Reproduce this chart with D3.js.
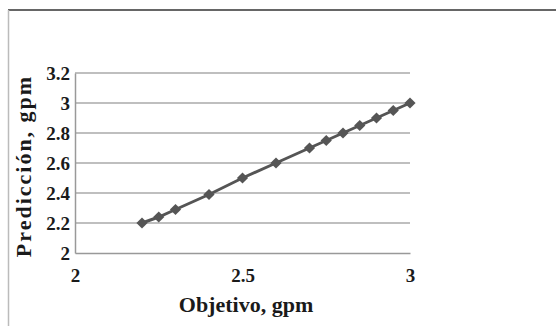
<!DOCTYPE html>
<html>
<head>
<meta charset="utf-8">
<script src="https://cdn.jsdelivr.net/npm/d3@7"></script>
<style>
  body { margin: 0; background: #fff; }
  svg text { font-family: "Liberation Serif", "Times New Roman", serif; font-weight: bold; fill: #1a1a1a; }
</style>
</head>
<body>
<div id="chart"></div>
<script>
// Objetivo vs Predicción (gpm)
const objetivo   = [2.2, 2.25, 2.3, 2.4, 2.5, 2.6, 2.7, 2.75, 2.8, 2.85, 2.9, 2.95, 3.0];
const prediccion = [2.2, 2.24, 2.29, 2.39, 2.5, 2.6, 2.7, 2.75, 2.8, 2.85, 2.9, 2.95, 3.0];
const xTicks = [2, 2.5, 3];
const yTicks = [2, 2.2, 2.4, 2.6, 2.8, 3, 3.2];

const width = 556, height = 326;
const margin = { top: 73, right: 146, bottom: 73, left: 75 };
const w = width - margin.left - margin.right;
const h = height - margin.top - margin.bottom;

const svg = d3.select('#chart').append('svg')
  .attr('width', width)
  .attr('height', height);

// outer frame
svg.append('line')
  .attr('x1', 8).attr('x2', width).attr('y1', 10).attr('y2', 10)
  .attr('stroke', '#666').attr('stroke-width', 2);
svg.append('line')
  .attr('x1', 8.5).attr('x2', 8.5).attr('y1', 10).attr('y2', height)
  .attr('stroke', '#bbb').attr('stroke-width', 1.5);

const chart = svg.append('g')
  .attr('transform', `translate(${margin.left}, ${margin.top})`);

const xScale = d3.scaleLinear().domain([2, 3]).range([0, w]);
const yScale = d3.scaleLinear().domain([2, 3.2]).range([h, 0]);

// gridlines
chart.append('g')
  .selectAll('line')
  .data(yTicks.slice(1))
  .enter().append('line')
  .attr('x1', 0).attr('x2', w)
  .attr('y1', d => yScale(d)).attr('y2', d => yScale(d))
  .attr('stroke', '#aaa').attr('stroke-width', 1.5);

// axes
const xAxis = chart.append('g')
  .attr('transform', `translate(0, ${h})`)
  .call(d3.axisBottom(xScale).tickValues(xTicks).tickFormat(d3.format('')).tickSize(0).tickPadding(10));
const yAxis = chart.append('g')
  .call(d3.axisLeft(yScale).tickValues(yTicks).tickFormat(d3.format('')).tickSize(0).tickPadding(5));

[xAxis, yAxis].forEach(a => {
  a.attr('font-family', null).attr('font-size', null);
  a.select('.domain').attr('stroke', '#999').attr('stroke-width', 1.5);
  a.selectAll('text')
    .style('font-size', '19px')
    .attr('fill', '#1a1a1a');
});
xAxis.selectAll('text').attr('y', 15).attr('dy', '0.75em');
yAxis.selectAll('text').attr('dy', '0.35em');

// series line
const points = objetivo.map((x, i) => [x, prediccion[i]]);
chart.append('path')
  .datum(points)
  .attr('fill', 'none')
  .attr('stroke', '#555')
  .attr('stroke-width', 3)
  .attr('d', d3.line().x(d => xScale(d[0])).y(d => yScale(d[1])));

// diamond markers
chart.selectAll('.marker')
  .data(points)
  .enter().append('path')
  .attr('class', 'marker')
  .attr('transform', d => `translate(${xScale(d[0])}, ${yScale(d[1])})`)
  .attr('d', d3.symbol().type(d3.symbolDiamond2).size(80))
  .attr('fill', '#555');

// axis titles
svg.append('text')
  .attr('x', 246)
  .attr('y', 312)
  .attr('text-anchor', 'middle')
  .style('font-size', '22px')
  .text('Objetivo, gpm');

svg.append('text')
  .attr('transform', `translate(31, 166) rotate(-90)`)
  .attr('text-anchor', 'middle')
  .style('font-size', '22px')
  .style('letter-spacing', '2px')
  .text('Predicción, gpm');
</script>
</body>
</html>
